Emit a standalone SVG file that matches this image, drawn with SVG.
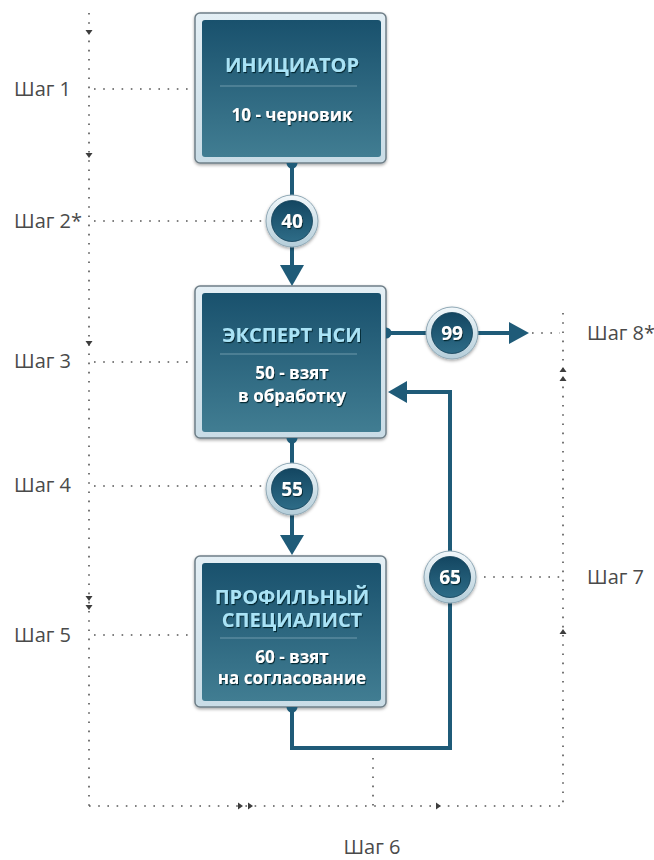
<svg xmlns="http://www.w3.org/2000/svg" width="654" height="860" viewBox="0 0 654 860">
<defs>
<linearGradient id="gInner" x1="0" y1="0" x2="0" y2="1">
<stop offset="0" stop-color="#19516d"/>
<stop offset="1" stop-color="#417d92"/>
</linearGradient>
<linearGradient id="gFrame" x1="0" y1="0" x2="0" y2="1">
<stop offset="0" stop-color="#e4eff5"/>
<stop offset="1" stop-color="#c9dce6"/>
</linearGradient>
<linearGradient id="gRing" x1="0" y1="0" x2="0" y2="1">
<stop offset="0" stop-color="#f2f8fb"/>
<stop offset="1" stop-color="#b4cdd9"/>
</linearGradient>
<linearGradient id="gDisc" x1="0" y1="0" x2="0" y2="1">
<stop offset="0" stop-color="#134661"/>
<stop offset="1" stop-color="#2e6c87"/>
</linearGradient>
<filter id="shadow" x="-10%" y="-10%" width="120%" height="120%">
<feDropShadow dx="0" dy="1.5" stdDeviation="1.5" flood-color="#000" flood-opacity="0.35"/>
</filter>
<filter id="tshadow" x="-10%" y="-30%" width="120%" height="160%">
<feDropShadow dx="1" dy="1.2" stdDeviation="0.7" flood-color="#06202e" flood-opacity="0.9"/>
</filter>
</defs>
<style>
.frame{fill:url(#gFrame);stroke:#6f7f88;stroke-width:1.5}
.inner{fill:url(#gInner)}
.sep{stroke:#6e9aac;stroke-width:1}
.title{font-family:"Open Sans","DejaVu Sans",sans-serif;font-weight:700;font-size:20px;fill:#a9e3f6;text-anchor:middle;filter:url(#tshadow)}
.sub{font-family:"Open Sans","DejaVu Sans",sans-serif;font-weight:700;font-size:17px;fill:#ffffff;text-anchor:middle;filter:url(#tshadow)}
.num{font-family:"Open Sans","DejaVu Sans",sans-serif;font-weight:700;font-size:19px;fill:#ffffff;text-anchor:middle;filter:url(#tshadow)}
.ring{fill:url(#gRing);stroke:#8fa8b5;stroke-width:1}
.disc{fill:url(#gDisc);stroke:#0f3d55;stroke-width:0.8}
.conn{fill:none;stroke:#1f5b78;stroke-width:4}
.head{fill:#1f5b78}
.dot{fill:none;stroke:#555;stroke-width:1.6;stroke-dasharray:1.6 7.6}
.tri{fill:#3d3d3d}
.lbl{font-family:"Open Sans","DejaVu Sans",sans-serif;font-size:20px;fill:#4a4a4a}
</style>

<g id="guides">
<line class="dot" x1="89" y1="13" x2="89" y2="806"/>
<line class="dot" x1="89" y1="806" x2="563" y2="806"/>
<line class="dot" x1="563" y1="313" x2="563" y2="806"/>
<line class="dot" x1="373" y1="758" x2="373" y2="806"/>
<line class="dot" x1="94" y1="89" x2="192" y2="89"/>
<line class="dot" x1="94" y1="221" x2="264" y2="221"/>
<line class="dot" x1="94" y1="362" x2="193" y2="362"/>
<line class="dot" x1="94" y1="486" x2="264" y2="486"/>
<line class="dot" x1="94" y1="635" x2="193" y2="635"/>
<line class="dot" x1="532" y1="333" x2="560" y2="333"/>
<line class="dot" x1="484" y1="577" x2="560" y2="577"/>
<polygon class="tri" points="85.5,30 92.5,30 89,35"/>
<polygon class="tri" points="85.5,153 92.5,153 89,158"/>
<polygon class="tri" points="85.5,341 92.5,341 89,346"/>
<polygon class="tri" points="85.5,596 92.5,596 89,601"/>
<polygon class="tri" points="85.5,605 92.5,605 89,610"/>
<polygon class="tri" points="238,802.5 238,809.5 243,806"/>
<polygon class="tri" points="248,802.5 248,809.5 253,806"/>
<polygon class="tri" points="436,802.5 436,809.5 441,806"/>
<polygon class="tri" points="559.5,372 566.5,372 563,367"/>
<polygon class="tri" points="559.5,381 566.5,381 563,376"/>
<polygon class="tri" points="559.5,634 566.5,634 563,629"/>
</g>

<g id="labels">
<text class="lbl" x="14" y="96">Шаг 1</text>
<text class="lbl" x="14" y="228">Шаг 2*</text>
<text class="lbl" x="14" y="368">Шаг 3</text>
<text class="lbl" x="14" y="492">Шаг 4</text>
<text class="lbl" x="14" y="642">Шаг 5</text>
<text class="lbl" x="372" y="854" text-anchor="middle">Шаг 6</text>
<text class="lbl" x="587" y="584">Шаг 7</text>
<text class="lbl" x="587" y="340">Шаг 8*</text>
</g>

<g id="connectors">
<line class="conn" x1="292" y1="163" x2="292" y2="268"/>
<polygon class="head" points="280,265 304,265 292,286"/>
<line class="conn" x1="292" y1="438" x2="292" y2="538"/>
<polygon class="head" points="280,535 304,535 292,555"/>
<line class="conn" x1="386" y1="333" x2="512" y2="333"/>
<polygon class="head" points="509,322 509,344 529,333"/>
<path class="conn" d="M292,707 V748 H450 V392 H407"/>
<polygon class="head" points="407,381 407,403 388,392"/>
</g>

<g id="node-initiator">
<rect class="frame" x="195" y="13" width="191" height="150" rx="5" filter="url(#shadow)"/>
<rect class="inner" x="202" y="20" width="179" height="137" rx="3"/>
<line class="sep" x1="220" y1="86" x2="357" y2="86"/>
<text class="title" x="292" y="72">ИНИЦИАТОР</text>
<text class="sub" x="292" y="121">10 - черновик</text>
<path class="head" d="M286.5,163 A5.5,5.5 0 0 0 297.5,163 Z"/>
</g>

<g id="node-expert">
<rect class="frame" x="195" y="286" width="191" height="152" rx="5" filter="url(#shadow)"/>
<rect class="inner" x="202" y="293" width="179" height="139" rx="3"/>
<line class="sep" x1="220" y1="354" x2="357" y2="354"/>
<text class="title" x="292" y="342">ЭКСПЕРТ НСИ</text>
<text class="sub" x="292" y="379">50 - взят<tspan x="292" y="402">в обработку</tspan></text>
<path class="head" d="M286.5,438 A5.5,5.5 0 0 0 297.5,438 Z"/>
<path class="head" d="M386,327.5 A5.5,5.5 0 0 1 386,338.5 Z"/>
</g>

<g id="node-specialist">
<rect class="frame" x="195" y="556" width="191" height="151" rx="5" filter="url(#shadow)"/>
<rect class="inner" x="202" y="563" width="179" height="138" rx="3"/>
<line class="sep" x1="220" y1="638" x2="357" y2="638"/>
<text class="title" x="292" y="604">ПРОФИЛЬНЫЙ<tspan x="292" y="627">СПЕЦИАЛИСТ</tspan></text>
<text class="sub" x="292" y="663">60 - взят<tspan x="292" y="684">на согласование</tspan></text>
<path class="head" d="M286.5,707 A5.5,5.5 0 0 0 297.5,707 Z"/>
</g>

<g id="status-40">
<circle class="ring" cx="292" cy="221" r="26" filter="url(#shadow)"/>
<circle class="disc" cx="292" cy="221" r="20.5"/>
<text class="num" x="292" y="228">40</text>
</g>
<g id="status-55">
<circle class="ring" cx="292" cy="489" r="26" filter="url(#shadow)"/>
<circle class="disc" cx="292" cy="489" r="20.5"/>
<text class="num" x="292" y="496">55</text>
</g>
<g id="status-99">
<circle class="ring" cx="452" cy="333" r="26" filter="url(#shadow)"/>
<circle class="disc" cx="452" cy="333" r="20.5"/>
<text class="num" x="452" y="340">99</text>
</g>
<g id="status-65">
<circle class="ring" cx="450" cy="577" r="26" filter="url(#shadow)"/>
<circle class="disc" cx="450" cy="577" r="20.5"/>
<text class="num" x="450" y="584">65</text>
</g>
</svg>
